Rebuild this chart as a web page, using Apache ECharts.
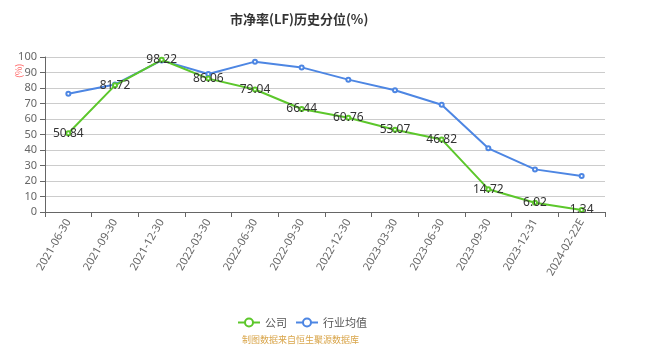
<!DOCTYPE html>
<html>
<head>
<meta charset="utf-8">
<script src="https://cdn.jsdelivr.net/npm/echarts@6/dist/echarts.min.js"></script>
<style>
  html, body { margin: 0; padding: 0; background: #fff; }
  #main { width: 669px; height: 354px; }
</style>
</head>
<body>
<div id="main"></div>
<script>
const categories = ['2021-06-30', '2021-09-30', '2021-12-30', '2022-03-30', '2022-06-30', '2022-09-30',
  '2022-12-30', '2023-03-30', '2023-06-30', '2023-09-30', '2023-12-31', '2024-02-22E'];
const companyValues = [50.84, 81.72, 98.22, 86.06, 79.04, 66.44, 60.76, 53.07, 46.82, 14.72, 6.02, 1.34];
const industryValues = [76.3, 82.3, 97.8, 89, 97, 93.3, 85.4, 78.5, 69.2, 41.1, 27.5, 23.2];
const yTicks = { min: 0, max: 100, interval: 10 };

const chart = echarts.init(document.getElementById('main'), null, { renderer: 'canvas' });

// 公司 / 行业均值 两条线
var option = {
  animation: false,
  title: {
    text: '市净率(LF)历史分位(%)',
    left: 225,
    top: 8,
    textStyle: { fontSize: 13, fontWeight: 'bold', color: '#333', fontFamily: 'Noto Sans CJK SC' }
  },
  legend: {
    top: 312,
    left: 232,
    itemWidth: 22,
    itemHeight: 10,
    itemGap: 8,
    textStyle: { fontSize: 11, color: '#555', fontFamily: 'Noto Sans CJK SC' },
    data: ['公司', '行业均值']
  },
  graphic: [{
    type: 'text',
    left: 242,
    top: 335,
    style: { text: '制图数据来自恒生聚源数据库', fill: '#d9a54a', font: '9px "Noto Sans CJK SC"' }
  }, {
    type: 'text',
    x: 14,
    y: 78,
    rotation: Math.PI / 2,
    style: { text: '(%)', fill: '#ff6666', font: '9px "Noto Sans CJK SC"' }
  }],
  grid: { left: 45, right: 64, top: 57, bottom: 142 },
  xAxis: {
    type: 'category',
    data: categories,
    boundaryGap: true,
    axisLine: { lineStyle: { color: '#666' } },
    axisTick: { show: true, alignWithLabel: false, lineStyle: { color: '#666' } },
    axisLabel: { rotate: 60, fontSize: 11, color: '#666', interval: 0, fontFamily: 'Noto Sans' }
  },
  yAxis: {
    type: 'value',
    min: yTicks.min,
    max: yTicks.max,
    interval: yTicks.interval,
    axisLine: { show: true, lineStyle: { color: '#666' } },
    axisTick: { show: true, lineStyle: { color: '#666' } },
    axisLabel: { fontSize: 11, color: '#666', fontFamily: 'Noto Sans' },
    splitLine: { lineStyle: { color: '#ccc' } }
  },
  series: [{
    name: '公司',
    type: 'line',
    data: companyValues,
    symbol: 'emptyCircle',
    symbolSize: 4,
    color: '#5cc72b',
    lineStyle: { width: 2 },
    label: {
      show: true,
      position: 'inside',
      fontSize: 12,
      color: '#333',
      fontFamily: 'Noto Sans'
    },
    z: 3
  }, {
    name: '行业均值',
    type: 'line',
    data: industryValues,
    symbol: 'emptyCircle',
    symbolSize: 4,
    color: '#4d86e3',
    lineStyle: { width: 2 },
    z: 2
  }]
};

chart.setOption(option);
</script>
</body>
</html>
